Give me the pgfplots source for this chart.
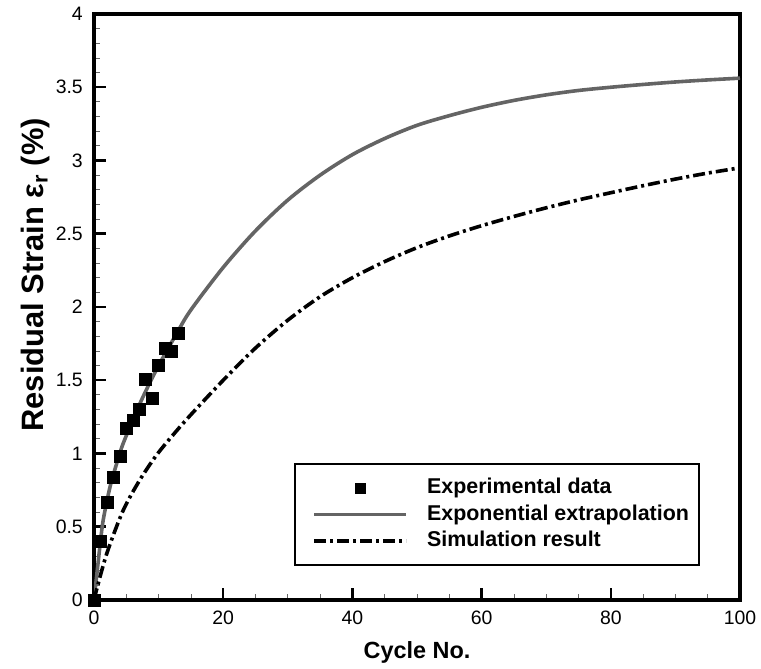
\documentclass[border=0pt]{standalone}
\usepackage{fontspec}
\setmainfont{Liberation Sans}
\usepackage{pgfplots}
\pgfplotsset{compat=1.18}

\definecolor{extgray}{RGB}{100,100,100}
\pgfplotsset{
  linelegend/.style={legend image code/.code={\path (-8bp,0bp); \draw[##1] (0bp,0bp) -- (92bp,0bp);}},
  marklegend/.style={legend image code/.code={\path (-8bp,0bp) (92bp,0bp); \draw[##1, mark size=4.5bp] plot coordinates {(46bp,0bp)};}},
}

\begin{document}
\begin{tikzpicture}
\useasboundingbox (0,0) rectangle (761bp,669bp);
\begin{axis}[
  at={(94bp,69bp)}, anchor=south west,
  width=646bp, height=586bp, scale only axis,
  xmin=0, xmax=100, ymin=0, ymax=4,
  xtick={0,20,...,100}, ytick={0,0.5,...,4},
  minor x tick num=3, minor y tick num=4,
  tick pos=left, tick align=inside,
  major tick length=12bp, minor tick length=6bp,
  every major tick/.style={line width=2.5bp, black},
  every minor tick/.style={line width=0.8bp, black!60},
  axis line style={line width=3.3bp},
  /pgf/number format/assume math mode=true,
  tick label style={font=\fontsize{19.5}{19.5}\selectfont, inner sep=0pt},
  xticklabel style={anchor=north, yshift=-10.5bp},
  yticklabel style={anchor=east, xshift=-11bp},
  xlabel={Cycle No.},
  ylabel={Residual Strain ε\textsubscript{r} (\%)},
  every axis x label/.style={at={(rel axis cs:0.5,0)}, anchor=base, yshift=-58bp,
    font=\fontsize{23.5}{23.5}\selectfont\bfseries},
  every axis y label/.style={at={(rel axis cs:0,0.555)}, anchor=base, rotate=90, yshift=50bp,
    font=\fontsize{31}{31}\selectfont\bfseries},
  legend style={at={(0.938,0.058)}, anchor=south east, line width=2bp, draw=black,
    font=\fontsize{21.5}{21.5}\selectfont\bfseries,
    inner xsep=10bp, inner ysep=13.5bp, row sep=5.5bp, column sep=19bp,
    nodes={inner sep=0pt, text height=16bp, text depth=5bp}},
  legend cell align=left,
]
\addplot[only marks, mark=square*, mark size=6bp, black, marklegend]
  coordinates {
  (0,0) (1,0.40) (2,0.67) (3,0.84) (4,0.98) (5,1.17) (6,1.23) (7,1.30)
  (8,1.51) (9,1.38) (10,1.60) (11,1.72) (12,1.70) (13,1.82)
  };
\addlegendentry{Experimental data}

\addplot[extgray, line width=3.6bp, smooth, linelegend]
  coordinates {
  (0,0) (0.5,0.20) (1,0.40) (1.44,0.55) (2.47,0.77) (3.5,0.93) (4.53,1.07)
  (7.1,1.34) (9.7,1.575) (12.8,1.82) (15,1.98) (20,2.27) (25,2.52)
  (30,2.73) (35,2.90) (40,3.04) (45,3.15) (50,3.24) (55,3.306)
  (60,3.363) (65,3.41) (70,3.448) (75,3.478) (80,3.50) (85,3.519)
  (90,3.536) (95,3.55) (100,3.562)
  };
\addlegendentry{Exponential extrapolation}

\addplot[black, line width=3.6bp, smooth, dash pattern=on 12bp off 4bp on 3bp off 4bp, linelegend]
  coordinates {
  (0,0) (0.4,0.07) (2,0.32) (4.5,0.61) (7.1,0.82) (9.7,0.99) (12.3,1.13)
  (15,1.265) (20,1.50) (25,1.72) (30,1.91) (35,2.07) (40,2.20)
  (45,2.31) (50,2.405) (55,2.485) (60,2.555) (65,2.618) (70,2.677)
  (75,2.731) (80,2.78) (85,2.828) (90,2.873) (95,2.914) (100,2.95)
  };
\addlegendentry{Simulation result}
\end{axis}
\end{tikzpicture}
\end{document}
